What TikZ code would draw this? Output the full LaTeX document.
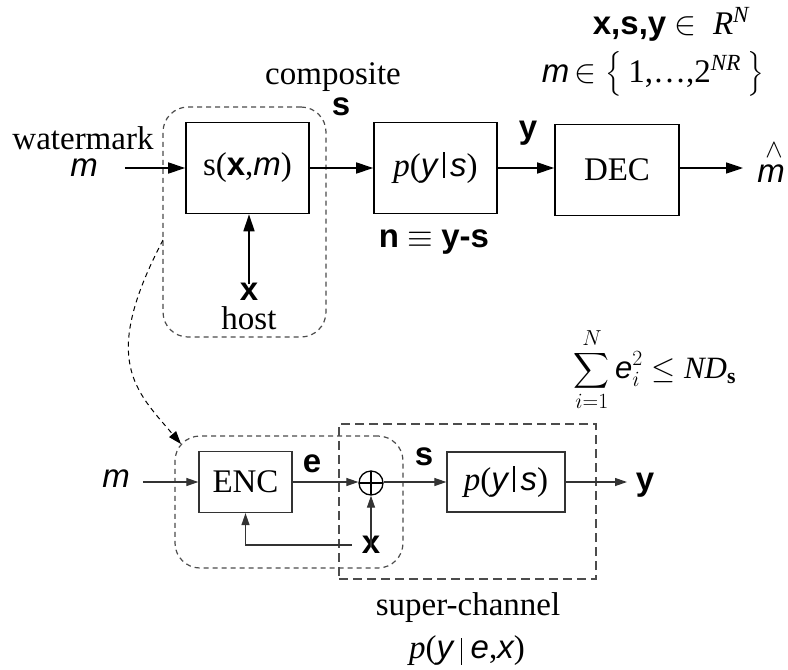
\documentclass[tikz,border=0pt]{standalone}
\usepackage{fix-cm}
\usepackage{exscale}
\usepackage{fontspec}
\setmainfont{Liberation Serif}
\setsansfont{Liberation Sans}
\usetikzlibrary{arrows.meta}
\newcommand{\hvb}[1]{{\sffamily\bfseries #1}}
\newcommand{\hvi}[1]{{\sffamily\itshape #1}}
\newcommand{\vbar}{\rule[-1pt]{1.8pt}{26pt}}
\tikzset{
  every node/.style={font=\fontsize{33}{40}\selectfont, inner sep=0pt},
  topbox/.style={draw, line width=1.6pt, minimum width=123pt, minimum height=91pt},
  botbox/.style={draw=black!80, line width=1.3pt},
  tarr/.style={line width=1.6pt, -{Triangle[length=17pt,width=11pt]}},
  barr/.style={line width=1.2pt, draw=black!80, -{Triangle[length=12pt,width=8pt]}},
  grpdash/.style={draw=black!70, line width=1.2pt, dash pattern=on 5pt off 4pt, rounded corners=25pt},
  supdash/.style={draw=black!70, line width=1.3pt, dash pattern=on 9pt off 5pt},
}
\begin{document}
\begin{tikzpicture}[x=1pt,y=-1pt]
\useasboundingbox (0,0) rectangle (788,670);

% ---------- top diagram ----------
\node[grpdash, minimum width=163pt, minimum height=230pt] (grp1) at (244.5,222) {};
\node[topbox] (b1) at (247.5,168) {s(\hvb{x},\hvi{m})};
\node[topbox] (b2) at (435.5,168) {\textit{p}(\hvi{y}\,\vbar\,\hvi{s})};
\node[topbox, minimum width=124pt] (dec) at (617,170) {DEC};

\node (wm) at (83,138) {watermark};
\node (mT) at (84,168) {\hvi{m}};
\node (comp) at (333,77) {composite};
\node (sT) at (341,107) {\hvb{s}};
\node (yT) at (528,133) {\hvb{y}};
\node (xT) at (249,292) {\hvb{x}};
\node (host) at (249,318) {host};
\node (mh) at (771,174) {\hvi{m}};
\node (hat) at (774,150) {\fontsize{26}{26}\selectfont$\wedge$};
\node (nys) at (434,242) {\hvb{n} $\equiv$ \hvb{y-s}};
\node (xsy) at (671,24) {\hvb{x,s,y} $\in$\ \ \textit{R\textsuperscript{N}}};
\node (mset) at (653,74) {\hvi{m}\,$\in$\ $\left\{\rule[-12pt]{0pt}{40pt}\right.$\,1,\ldots,2\textsuperscript{\textit{NR}}\,$\left.\rule[-12pt]{0pt}{40pt}\right\}$};

\draw[tarr] ([xshift=27pt]mT.east) -- (mT.east -| b1.west);
\draw[tarr] (b1.east) -- (b2.west);
\draw[tarr] (b2.east) -- (b2.east -| dec.west);
\draw[tarr] (dec.east |- b2.east) -- ([xshift=-14pt]mh.west |- b2.east);
\draw[tarr] ([yshift=-1pt]xT.north) -- (xT.north |- b1.south);

% ---------- bottom diagram ----------
\node[supdash, minimum width=257pt, minimum height=155pt] (sup) at (467.5,501.5) {};
\node[grpdash, minimum width=228pt, minimum height=132pt] (grp2) at (289,502) {};
\node[botbox, minimum width=93pt, minimum height=61pt] (enc) at (245.5,482) {ENC};
\node[draw, circle, line width=1.3pt, minimum size=24pt,
      path picture={\draw[line width=1.3pt] (path picture bounding box.north) -- (path picture bounding box.south)
                     (path picture bounding box.west) -- (path picture bounding box.east);}] (pl) at (371,483) {};
\node[botbox, minimum width=118pt, minimum height=60pt] (b3) at (506,482) {\textit{p}(\hvi{y}\,\vbar\,\hvi{s})};

\node (mB) at (116,479) {\hvi{m}};
\node (eB) at (312,464) {\hvb{e}};
\node (sB) at (424,457) {\hvb{s}};
\node (xB) at (371,545) {\hvb{x}};
\node (yB) at (645,485) {\hvb{y}};
\node (sc) at (468,608) {super-channel};
\node (pyex) at (467,651) {\textit{p}(\hvi{y}\ \rule[-6pt]{1pt}{27pt}\ \hvi{e},\hvi{x})};
\node (sum) at (655,370) {\fontsize{31}{36}\selectfont$\displaystyle\sum_{i=1}^{N}\mbox{\hvi{e}}_i^2\leq \mbox{\textit{ND}}_{\mathbf{s}}$};

\draw[barr] ([xshift=13pt]enc.west -| mB.east) -- (enc.west);
\draw[barr] (enc.east) -- (enc.east -| pl.west);
\draw[barr] (b3.west -| pl.east) -- (b3.west);
\draw[barr] (b3.east) -- (b3.east -| 627,0);
\draw[barr] ([yshift=-11pt]xB.north) -- (pl.south);
\draw[barr] ([xshift=-10pt]xB.west) -| (enc.south);

% dashed link between groups
\coordinate (c1) at (163,240);
\coordinate (c2) at (181,444);
\draw[line width=1pt, dash pattern=on 5pt off 4pt, -{Triangle[length=13pt,width=9pt]}]
  (c1) .. controls (100,360) and (135,390) .. (c2);
\end{tikzpicture}
\end{document}
